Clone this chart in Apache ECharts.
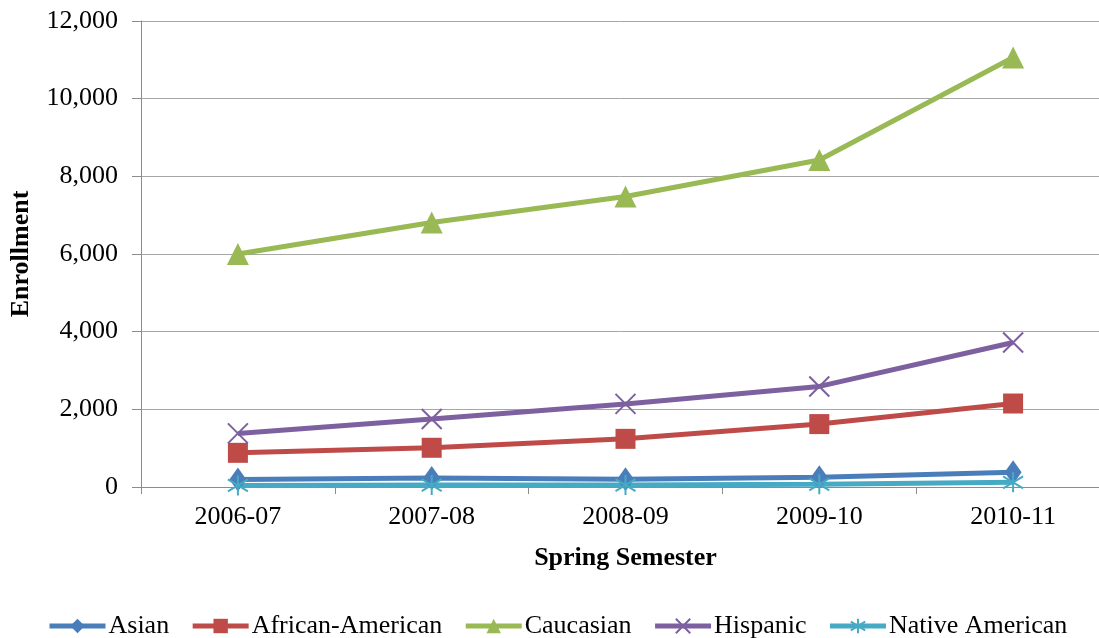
<!DOCTYPE html>
<html><head><meta charset="utf-8">
<script src="https://cdn.jsdelivr.net/npm/echarts@6/dist/echarts.min.js"></script>
<style>html,body{margin:0;padding:0;background:#fff}#c{width:1099px;height:638px}</style>
</head><body><div id="c"></div>
<script>
const categories = ['2006-07','2007-08','2008-09','2009-10','2010-11'];
const asian = [190, 230, 200, 250, 380];
const africanAmerican = [880, 1010, 1240, 1620, 2150];
const caucasian = [6000, 6810, 7480, 8420, 11060];
const hispanic = [1380, 1750, 2140, 2590, 3720];
const nativeAmerican = [40, 50, 50, 70, 120];
const yTicks = [0, 2000, 4000, 6000, 8000, 10000, 12000];

const font = 'Liberation Serif';
const xPath = 'path://M0,0 L10,10 M10,0 L0,10';
const starPath = 'path://M5,0 L5,10 M0,2 L10,8 M0,8 L10,2';

function mk(name, data, color, symbol, size, stroke) {
  return {
    name, type: 'line', data, symbol, symbolSize: size,
    lineStyle: { color, width: 5 },
    itemStyle: stroke ? { color: 'rgba(0,0,0,0)', borderColor: color, borderWidth: 2 } : { color },
    emphasis: { disabled: true },
    z: 3
  };
}

const chart = echarts.init(document.getElementById('c'));
chart.setOption({
  animation: false,
  backgroundColor: '#fff',
  grid: { left: 141, top: 21, right: -11, height: 466, outerBoundsMode: 'none', containLabel: false },
  xAxis: {
    type: 'category', data: categories, boundaryGap: true,
    axisLine: { lineStyle: { color: '#8c8c8c', width: 1 } },
    axisTick: { show: true, length: 7, inside: false, lineStyle: { color: '#8c8c8c' } },
    axisLabel: { fontFamily: font, fontSize: 26, color: '#000', margin: 17 },
    name: 'Spring Semester', nameLocation: 'middle', nameGap: 58,
    nameTextStyle: { fontFamily: font, fontSize: 26, fontWeight: 'bold', color: '#000' }
  },
  yAxis: {
    type: 'value', min: 0, max: 12000, interval: 2000,
    axisLine: { show: true, lineStyle: { color: '#8c8c8c', width: 1 } },
    axisTick: { show: true, length: 9, lineStyle: { color: '#8c8c8c' } },
    splitLine: { lineStyle: { color: '#a6a6a6', width: 1 } },
    axisLabel: { fontFamily: font, fontSize: 26, color: '#000', margin: 23,
      formatter: v => yTicks.includes(v) ? v.toLocaleString('en-US') : '' },
    name: 'Enrollment', nameLocation: 'middle', nameGap: 107, nameRotate: 90,
    nameTextStyle: { fontFamily: font, fontSize: 26, fontWeight: 'bold', color: '#000' }
  },
  legend: {
    bottom: -6, left: 42, itemWidth: 56, itemHeight: 18, itemGap: 21,
    lineStyle: { width: 5 },
    textStyle: { fontFamily: font, fontSize: 26, color: '#000', padding: [0,0,0,-2] },
    data: ['Asian','African-American','Caucasian','Hispanic','Native American']
  },
  series: [
    mk('Asian', asian, '#4a7ebb', 'diamond', [17, 24]),
    mk('African-American', africanAmerican, '#be4b48', 'rect', 20),
    mk('Caucasian', caucasian, '#98b954', 'triangle', 22),
    mk('Hispanic', hispanic, '#7d60a0', xPath, 20, true),
    mk('Native American', nativeAmerican, '#46aac5', starPath, 20, true)
  ]
});
</script></body></html>
